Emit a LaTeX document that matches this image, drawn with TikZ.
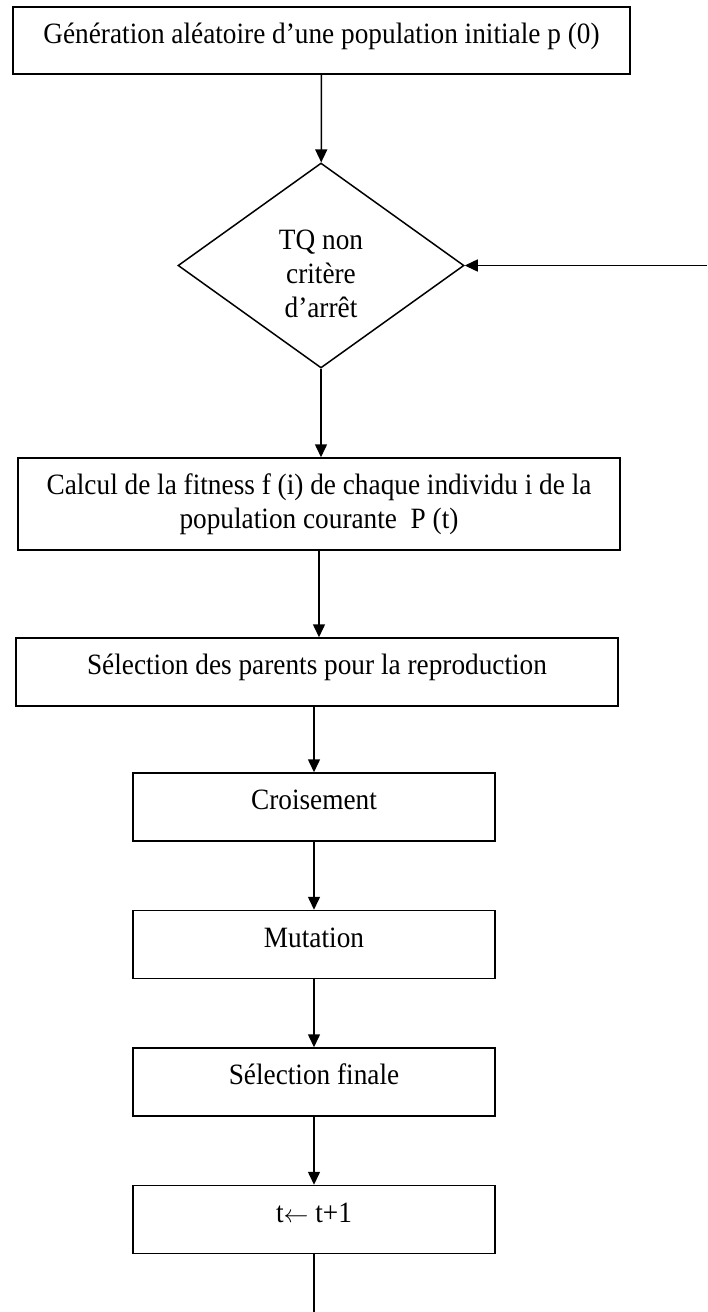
\documentclass[tikz,border=0pt]{standalone}
\usepackage{fontspec}
\setmainfont[FakeStretch=0.925]{Liberation Serif}
\usepackage{tikz}
\usetikzlibrary{positioning, shapes.geometric, arrows.meta}

\begin{document}
\begin{tikzpicture}[x=1pt, y=-1pt, ->, >={Triangle[length=13pt,width=12pt]}, line width=1.5pt,
  font=\fontsize{29.5}{34}\selectfont,
  stepbox/.style={draw, rectangle, align=center, inner sep=0pt, minimum height=68pt},
  onebox/.style={stepbox, text height=21pt, text depth=16pt},
  smallbox/.style={onebox, minimum width=362pt},
  node distance=68pt]
  \useasboundingbox (0,0) rectangle (707,1312);

  \node[onebox, minimum width=617pt, minimum height=67pt] (gen) at (321.5,40.5)
    {Génération aléatoire d’une population initiale p (0)};
  \node[diamond, draw, aspect=1.4, inner sep=0pt, minimum width=286pt, minimum height=205pt,
    align=center] (cond) at (321,265.5) {\rule{0pt}{37pt}TQ non\\critère\\d’arrêt};
  \node[stepbox, minimum width=602pt, minimum height=92pt] (fit) at (319,504)
    {Calcul de la fitness f (i) de chaque individu i de la\\population courante~ P (t)};
  \node[onebox, minimum width=602pt] (sel) at (317,672)
    {Sélection des parents pour la reproduction};
  %% the small boxes, one under the other
  \node[smallbox] (cross) at (314,807) {Croisement};
  \node[smallbox, below=of cross] (mut) {Mutation};
  \node[smallbox, below=of mut] (fin) {Sélection finale};
  \node[smallbox, below=of fin] (incr) {t$\leftarrow$ t+1};

  \coordinate (loopin) at (707,265.5);
  \coordinate (back) at (incr.south |- 0,1312);

  \path
    (gen) edge (cond)
    (cond) edge (cond.south |- fit.north)
    (fit.south) edge (fit.south |- sel.north)
    (cross.north |- sel.south) edge (cross)
    (cross) edge (mut)
    (mut) edge (fin)
    (fin) edge (incr)
    (loopin) edge (cond);
  \draw[-] (incr) -- (back);
\end{tikzpicture}
\end{document}
